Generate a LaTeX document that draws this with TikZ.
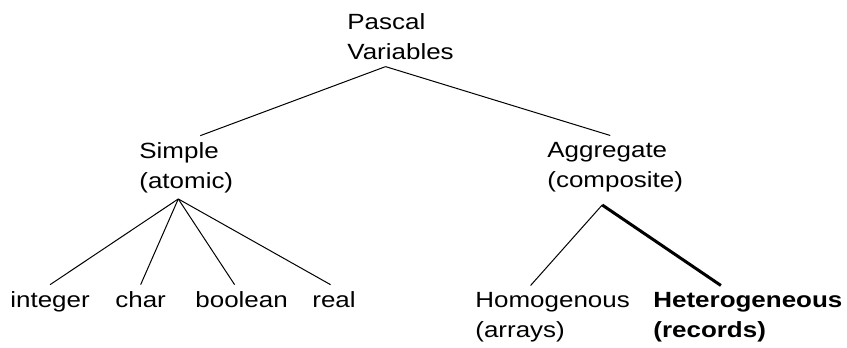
\documentclass[tikz,border=0pt]{standalone}
\usepackage{fontspec}
\setmainfont{Liberation Sans}[FakeStretch=1.18]
\tikzstyle{kind} = [anchor=base west, align=left, inner sep=3pt, font=\fontsize{11}{15}\selectfont]
\tikzstyle{branch} = [line width=0.5pt]
\tikzstyle{mainbranch} = [line width=1.5pt]

\begin{document}
\begin{tikzpicture}[x=0.5pt,y=-0.5pt]
	\useasboundingbox (0,0) rectangle (847,348);
	\node (pv) at (341,60) [kind] {Pascal\\Variables};
	\node (simple) at (133,188) [kind] {Simple\\(atomic)};
	\node (aggr) at (541,187) [kind] {Aggregate\\(composite)};
	\node (int) at (4,307) [kind] {integer};
	\node (chr) at (109,307) [kind] {char};
	\node (bool) at (189,307) [kind] {boolean};
	\node (real) at (306,307) [kind] {real};
	\node (homo) at (469,337) [kind] {Homogenous\\(arrays)};
	\node (hetero) at (647,337) [kind] {\textbf{Heterogeneous}\\\textbf{(records)}};
	\draw [branch] ([xshift=-7.5pt]pv.south) -- ([xshift=7pt]simple.north);
	\draw [branch] ([xshift=-7.5pt]pv.south) -- ([xshift=-2.5pt]aggr.north);
	\draw [branch] ([xshift=-4pt]simple.south) -- (int.north);
	\draw [branch] ([xshift=-4pt]simple.south) -- (chr.north);
	\draw [branch] ([xshift=-4pt]simple.south) -- ([xshift=-3.5pt]bool.north);
	\draw [branch] ([xshift=-4pt]simple.south) -- ([xshift=-1.75pt]real.north);
	\draw [branch] ([xshift=-6.5pt,yshift=-3.5pt]aggr.south) -- ([xshift=-11pt]homo.north);
	\draw [mainbranch] ([xshift=-6.5pt,yshift=-3.5pt]aggr.south) -- ([xshift=-13.5pt]hetero.north);
\end{tikzpicture}
\end{document}
